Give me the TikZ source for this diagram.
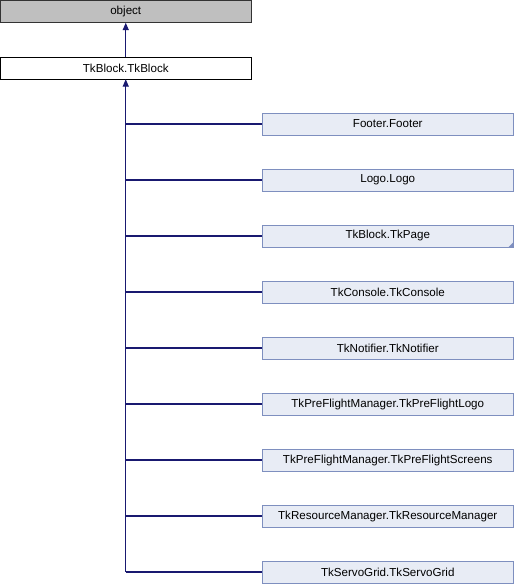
\documentclass[tikz,border=0pt]{standalone}
\usepackage{fontspec}
\setmainfont{Liberation Sans}
\usetikzlibrary{arrows.meta}
\definecolor{edgeblue}{HTML}{191970}
\definecolor{derfill}{HTML}{E8ECF5}
\definecolor{derdraw}{HTML}{7E8FBF}
\definecolor{objfill}{HTML}{BFBFBF}
\begin{document}
\begin{tikzpicture}[x=0.75pt,y=-0.75pt,
  basebox/.style={draw, minimum width=250.5*0.75pt, minimum height=22*0.75pt, inner sep=0pt, font=\fontsize{8.7pt}{10pt}\selectfont, anchor=center},
  objbox/.style={basebox, fill=objfill, draw=black!80},
  rootbox/.style={basebox, fill=white, draw=black},
  derbox/.style={basebox, fill=derfill, draw=derdraw},
  inh/.style={draw=edgeblue, line width=0.8pt},
  tip/.style={-{Triangle[length=5.5pt,width=4.5pt]}}]
\useasboundingbox (0,0) rectangle (514,584);
\node[objbox] (obj) at (125.75,11.5) {object};
\node[rootbox] (root) at (125.75,68) {TkBlock.TkBlock};
\draw[inh,tip] (root.north) -- (obj.south);
\foreach \n/\t [count=\i] in {f/Footer.Footer, l/Logo.Logo, p/TkBlock.TkPage, c/TkConsole.TkConsole, n/TkNotifier.TkNotifier, pl/TkPreFlightManager.TkPreFlightLogo, ps/TkPreFlightManager.TkPreFlightScreens, r/TkResourceManager.TkResourceManager, s/TkServoGrid.TkServoGrid}{
  \node[derbox] (\n) at (387.75,{124+56*(\i-1)}) {\t};
}
\fill[derdraw] (p.south east) -- ++(0,-5) -- ++(-5,5) -- cycle;
\coordinate (trunk) at (root.south |- s.west);
\draw[inh] (trunk) -- (s.west);
\draw[inh,tip] (trunk) -- (root.south);
\foreach \n in {f,l,p,c,n,pl,ps,r}{
  \draw[inh] (root.south |- \n.west) -- (\n.west);
}
\end{tikzpicture}
\end{document}
